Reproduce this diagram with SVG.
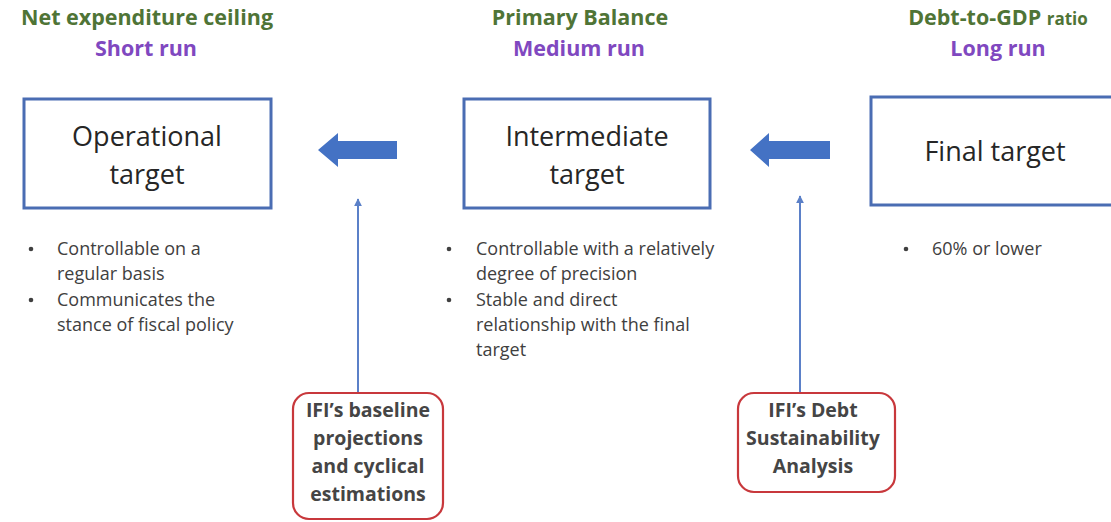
<svg xmlns="http://www.w3.org/2000/svg" width="1111" height="522" viewBox="0 0 1111 522">
<style>
.hd{font-family:"Open Sans","Liberation Sans",sans-serif;font-weight:bold;font-size:21.5px;text-anchor:middle}
.g{fill:#4f7436}
.p{fill:#8048c0}
.box{fill:#fff;stroke:#4a6db3;stroke-width:3}
.bt{font-family:"Open Sans","Liberation Sans",sans-serif;font-size:27px;fill:#262626;text-anchor:middle}
.li{font-family:"Open Sans","Liberation Sans",sans-serif;font-size:18px;fill:#404040}
.bu{fill:#404040}
.rb{fill:#fff;stroke:#c8383c;stroke-width:2.2}
.rt{font-family:"Open Sans","Liberation Sans",sans-serif;font-weight:bold;font-size:19.5px;fill:#454545;text-anchor:middle}
.big{fill:#4472c4}
.thin{stroke:#5b80c8;stroke-width:2;fill:none}
</style>
<defs>
<marker id="ah" viewBox="0 0 10 10" refX="9" refY="5" markerWidth="4" markerHeight="4" orient="auto" markerUnits="strokeWidth">
<path d="M0,0 L10,5 L0,10 z" fill="#5b80c8"/>
</marker>
</defs>
<rect width="1111" height="522" fill="#fff"/>

<g id="headers">
<text class="hd g" x="147" y="25">Net expenditure ceiling</text>
<text class="hd p" x="146" y="56">Short run</text>
<text class="hd g" x="580" y="25">Primary Balance</text>
<text class="hd p" x="579" y="56">Medium run</text>
<text class="hd g" x="998" y="25">Debt-to-GDP <tspan font-size="17px">ratio</tspan></text>
<text class="hd p" x="998" y="56">Long run</text>
</g>

<g id="operational">
<rect class="box" x="24" y="99" width="247" height="109"/>
<text class="bt" x="147" y="146">Operational</text>
<text class="bt" x="147" y="184">target</text>
<circle class="bu" cx="31" cy="249" r="2.3"/>
<text class="li" x="57" y="255">Controllable on a</text>
<text class="li" x="57" y="280">regular basis</text>
<circle class="bu" cx="31" cy="300" r="2.3"/>
<text class="li" x="57" y="306">Communicates the</text>
<text class="li" x="57" y="331">stance of fiscal policy</text>
</g>

<g id="intermediate">
<rect class="box" x="464" y="99" width="246" height="109"/>
<text class="bt" x="587" y="146">Intermediate</text>
<text class="bt" x="587" y="184">target</text>
<circle class="bu" cx="449" cy="249" r="2.3"/>
<text class="li" x="476" y="255">Controllable with a relatively</text>
<text class="li" x="476" y="280">degree of precision</text>
<circle class="bu" cx="449" cy="300" r="2.3"/>
<text class="li" x="476" y="306">Stable and direct</text>
<text class="li" x="476" y="331">relationship with the final</text>
<text class="li" x="476" y="356">target</text>
</g>

<g id="final">
<rect class="box" x="871" y="97" width="260" height="108"/>
<text class="bt" x="995" y="161">Final target</text>
<circle class="bu" cx="906" cy="249" r="2.3"/>
<text class="li" x="932" y="255">60% or lower</text>
</g>

<g id="baseline">
<rect class="rb" x="293" y="393" width="150" height="126" rx="16"/>
<text class="rt" x="368" y="417">IFI’s baseline</text>
<text class="rt" x="368" y="445">projections</text>
<text class="rt" x="368" y="473">and cyclical</text>
<text class="rt" x="368" y="501">estimations</text>
</g>

<g id="dsa">
<rect class="rb" x="738" y="393" width="157" height="99" rx="16"/>
<text class="rt" x="813" y="417">IFI’s Debt</text>
<text class="rt" x="813" y="445">Sustainability</text>
<text class="rt" x="813" y="473">Analysis</text>
</g>

<g id="connectors">
<polygon class="big" points="318,150 338,133 338,141 397,141 397,159 338,159 338,167"/>
<polygon class="big" points="750,150 769,133 769,141 830,141 830,159 769,159 769,167"/>
<line class="thin" x1="358" y1="392" x2="358" y2="199" marker-end="url(#ah)"/>
<line class="thin" x1="800" y1="392" x2="800" y2="196" marker-end="url(#ah)"/>
</g>
</svg>
